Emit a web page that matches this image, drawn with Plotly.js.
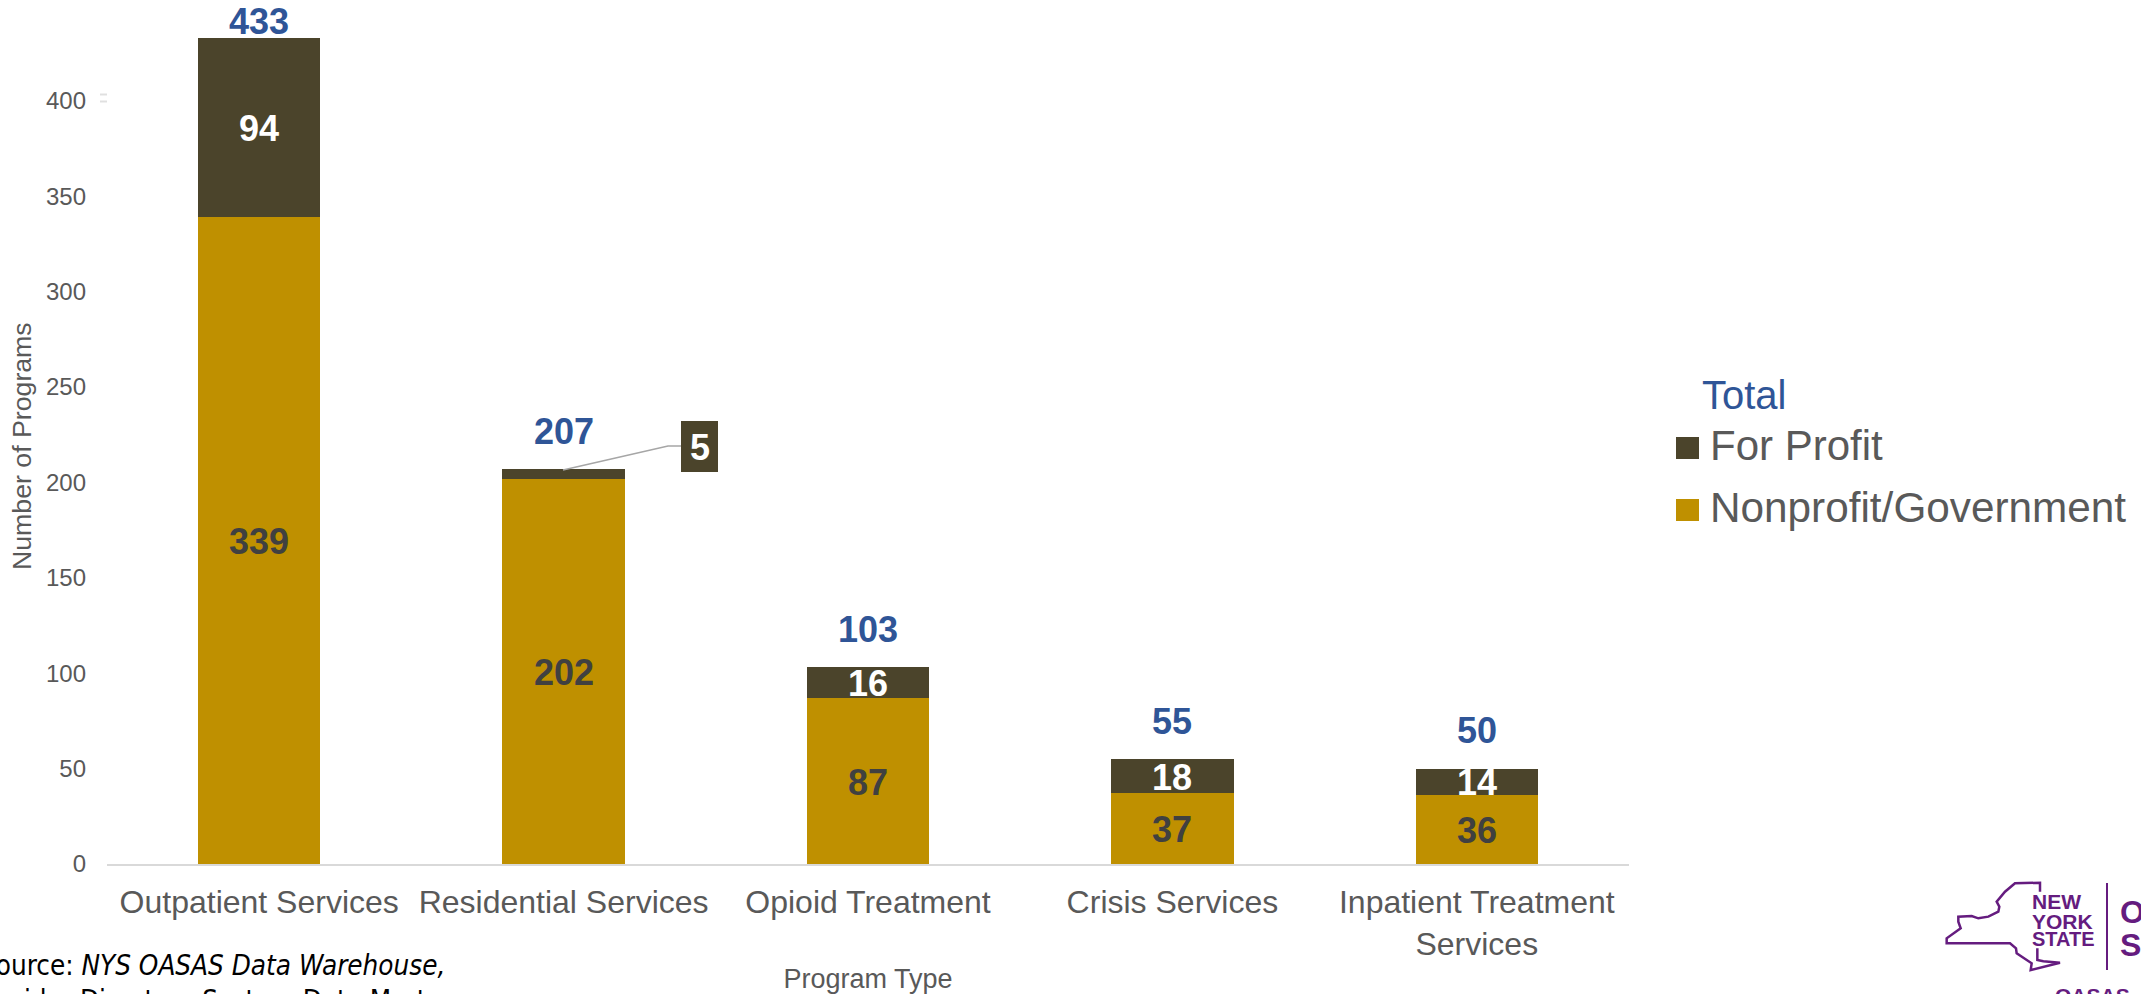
<!DOCTYPE html>
<html>
<head>
<meta charset="utf-8">
<script src="https://cdn.plot.ly/plotly-3.0.1.min.js"></script>
<style>html,body{margin:0;padding:0;background:#fff;overflow:hidden}#chart{width:2141px;height:994px}</style>
</head>
<body>
<div id="chart"></div>
<script>
var categories = ['Outpatient Services', 'Residential Services', 'Opioid Treatment', 'Crisis Services', 'Inpatient Treatment<br>Services'];
var nonprofit = [339, 202, 87, 37, 36];
var forProfit = [94, 5, 16, 18, 14];
var totals = [433, 207, 103, 55, 50];
var yTicks = [0, 50, 100, 150, 200, 250, 300, 350, 400];
var totalShift = [16, 38, 38, 38, 38];

var W = 2141, H = 994;
var M = {l: 107, r: W - 1629, t: 0, b: H - 864};
var PW = W - M.l - M.r, PH = H - M.t - M.b;
function px(x) { return (x - M.l) / PW; }
function py(y) { return 1 - (y - M.t) / PH; }
function pathOf(pts) {
  return pts.map(function (p, i) { return (i ? 'L' : 'M') + px(p[0]).toFixed(5) + ',' + py(p[1]).toFixed(5); }).join(' ');
}

var DARK = '#4B442B', GOLD = '#BF9000', BLUE = '#2F5597', GREY = '#595959', PURPLE = '#651C7F';
var SANS = '"Liberation Sans", Arial, sans-serif';
var LABEL_SIZE = 36;

var traces = [
  {type: 'bar', name: 'Nonprofit/Government', x: categories, y: nonprofit, marker: {color: GOLD}, legend: 'legend3', hoverinfo: 'y+name'},
  {type: 'bar', name: 'For Profit', x: categories, y: forProfit, marker: {color: DARK}, legend: 'legend2', hoverinfo: 'y+name'},
  {type: 'scatter', mode: 'markers', name: 'Total', x: categories, y: totals, marker: {size: 1, color: 'rgba(0,0,0,0)', line: {width: 0}}, legend: 'legend', hoverinfo: 'y+name'}
];

var annotations = [];
categories.forEach(function (c, i) {
  annotations.push({x: c, y: totals[i], xref: 'x', yref: 'y', text: String(totals[i]), showarrow: false, yanchor: 'middle', yshift: totalShift[i], font: {family: SANS, size: LABEL_SIZE, color: BLUE, weight: 700}});
  annotations.push({x: c, y: nonprofit[i] / 2, xref: 'x', yref: 'y', text: String(nonprofit[i]), showarrow: false, yanchor: 'middle', yshift: -1, font: {family: SANS, size: LABEL_SIZE, color: '#404040', weight: 700}});
  if (forProfit[i] > 5) {
    annotations.push({x: c, y: nonprofit[i] + forProfit[i] / 2, xref: 'x', yref: 'y', text: String(forProfit[i]), showarrow: false, yanchor: 'middle', yshift: -1, font: {family: SANS, size: LABEL_SIZE, color: '#FFFFFF', weight: 700}});
  }
});
function pageText(x, y, text, size, color, anchor, family, weight) {
  annotations.push({xref: 'paper', yref: 'paper', x: px(x), y: py(y), text: text, showarrow: false, xanchor: anchor || 'left', yanchor: 'middle', align: 'left', borderpad: 0,
    font: {family: family || SANS, size: size, color: color, weight: weight || 400}});
}
pageText(699.5, 447.5, '<b>5</b>', LABEL_SIZE, '#FFFFFF', 'center');
var SRC = '"DejaVu Sans Condensed", "DejaVu Sans", sans-serif';
pageText(-21, 965, 'Source: <i>NYS OASAS Data Warehouse,</i>', 27.6, '#000000', 'left', SRC);
pageText(-31, 1000, 'Provider Directory System Data Mart', 27.6, '#000000', 'left', SRC);
pageText(2031, 902, 'NEW', 21, PURPLE, 'left', SANS, 700);
pageText(2031, 921, 'YORK', 21, PURPLE, 'left', SANS, 700);
pageText(2031, 939, 'STATE', 20, PURPLE, 'left', SANS, 700);
pageText(2119, 912, 'O', 32, PURPLE, 'left', SANS, 700);
pageText(2119, 945, 'S', 32, PURPLE, 'left', SANS, 700);
pageText(2092, 996, 'OASAS', 21, PURPLE, 'center', SANS, 700);
annotations.push({xref: 'paper', yref: 'paper', x: px(22), y: py(446), text: 'Number of Programs', textangle: -90, showarrow: false, xanchor: 'center', yanchor: 'middle', borderpad: 0, font: {family: SANS, size: 26.7, color: GREY}});

var z = function (a, b) { return [1900 + a / 3, 860 + b / 3]; };
var nyOutline = [z(420,95),z(420,68),z(345,70),z(315,95),z(290,125),z(298,140),z(295,155),z(265,170),z(235,175),z(215,168),z(175,170),z(175,185),z(182,205),z(140,235),z(140,250),z(330,250),z(348,265),z(350,280),z(395,310),z(392,330),z(480,308),z(430,304),z(412,300),z(412,265)];

var shapes = [
  {type: 'rect', xref: 'paper', yref: 'paper', x0: px(681), x1: px(718), y0: py(472), y1: py(421), fillcolor: DARK, line: {width: 0}, layer: 'below'},
  {type: 'path', xref: 'paper', yref: 'paper', path: pathOf([[563, 470], [668, 446], [681, 446]]), line: {color: '#A6A6A6', width: 1.5}},
  {type: 'rect', xref: 'paper', yref: 'paper', x0: px(1676), x1: px(1699), y0: py(459), y1: py(437), fillcolor: DARK, line: {width: 0}},
  {type: 'rect', xref: 'paper', yref: 'paper', x0: px(1676), x1: px(1699), y0: py(521), y1: py(499), fillcolor: GOLD, line: {width: 0}},
  {type: 'line', xref: 'paper', yref: 'paper', x0: px(100), x1: px(107), y0: py(94.5), y1: py(94.5), line: {color: '#E0E0E0', width: 2}},
  {type: 'line', xref: 'paper', yref: 'paper', x0: px(100), x1: px(107), y0: py(101.5), y1: py(101.5), line: {color: '#E0E0E0', width: 2}},
  {type: 'path', xref: 'paper', yref: 'paper', path: pathOf(nyOutline), line: {color: PURPLE, width: 2.5}},
  {type: 'line', xref: 'paper', yref: 'paper', x0: px(2107), x1: px(2107), y0: py(883), y1: py(970), line: {color: PURPLE, width: 2}}
];

function legendAt(x, yCenter, size, color) {
  return {x: px(x), y: py(yCenter), xanchor: 'left', yanchor: 'middle', bgcolor: 'rgba(0,0,0,0)', borderwidth: 0, font: {family: SANS, size: size, color: color}};
}

var layout = {
  width: W, height: H, margin: {l: M.l, r: M.r, t: M.t, b: M.b, autoexpand: false},
  paper_bgcolor: '#FFFFFF', plot_bgcolor: '#FFFFFF',
  barmode: 'stack', bargap: 0.598, showlegend: true,
  font: {family: SANS, color: GREY},
  legend: legendAt(1662, 393.5, 40, BLUE),
  legend2: legendAt(1670, 443.5, 42, GREY),
  legend3: legendAt(1670, 505.5, 42.3, GREY),
  xaxis: {type: 'category', categoryorder: 'array', categoryarray: categories, showgrid: false, zeroline: false, showline: true, linecolor: '#D9D9D9', linewidth: 2, ticks: '', tickangle: 0, ticklabelstandoff: 9, tickfont: {family: SANS, size: 32, color: GREY},
    title: {text: 'Program Type', font: {family: SANS, size: 27, color: GREY}, standoff: 11}},
  yaxis: {range: [0, 452.8], tickvals: yTicks, showgrid: false, zeroline: false, showline: false, ticks: '', ticklabelstandoff: 20, tickfont: {family: SANS, size: 24, color: GREY}},
  annotations: annotations,
  shapes: shapes
};
Plotly.newPlot('chart', traces, layout, {displayModeBar: false, responsive: false});
</script>
</body>
</html>
